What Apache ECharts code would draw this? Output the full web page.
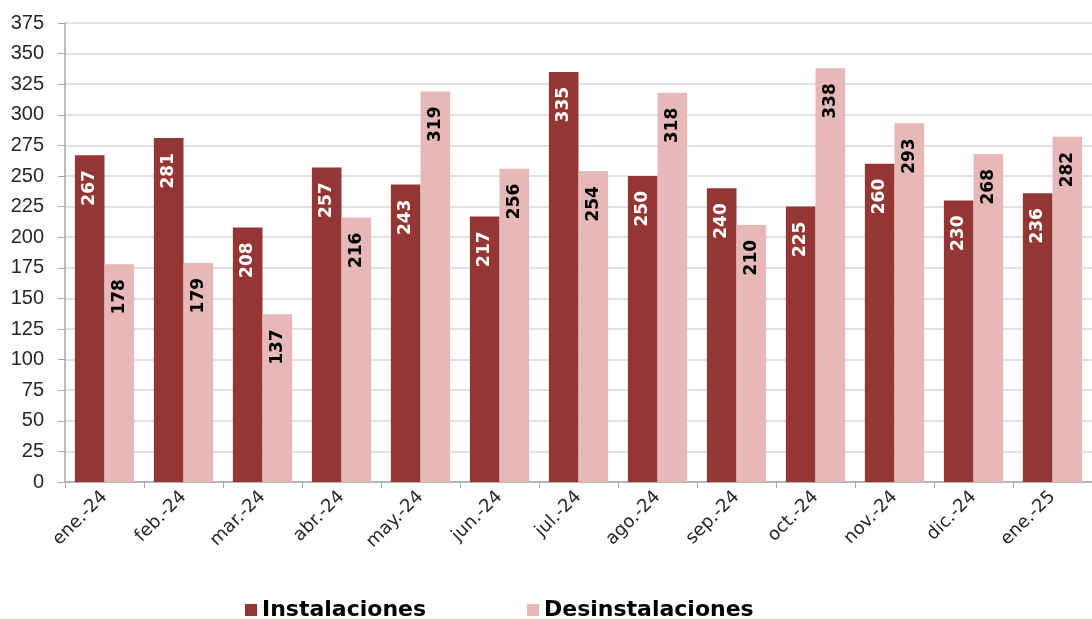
<!DOCTYPE html>
<html><head><meta charset="utf-8">
<script src="https://cdn.jsdelivr.net/npm/echarts@6/dist/echarts.min.js"></script>
<style>html,body{margin:0;padding:0;background:#fff}#c{width:1092px;height:619px}</style>
</head><body><div id="c"></div>
<script>
var categories = ['ene.-24','feb.-24','mar.-24','abr.-24','may.-24','jun.-24','jul.-24','ago.-24','sep.-24','oct.-24','nov.-24','dic.-24','ene.-25'];
var instalaciones = [267,281,208,257,243,217,335,250,240,225,260,230,236];
var desinstalaciones = [178,179,137,216,319,256,254,318,210,338,293,268,282];
var yTicks = {min:0, max:375, interval:25};

var font = '"DejaVu Sans", sans-serif';
var chart = echarts.init(document.getElementById('c'));
function lbl(color){
  return {show:true, position:'insideTop', rotate:90, align:'right', verticalAlign:'middle',
    distance:15, color:color, fontWeight:'bold', fontSize:17, fontFamily:font};
}
chart.setOption({
  animation:false,
  grid:{left:65, top:23, width:1031, height:459, containLabel:false},
  legend:[
    {data:['Instalaciones'], left:240, top:594, itemWidth:12, itemHeight:12, icon:'rect',
     textStyle:{fontSize:22, fontWeight:'bold', color:'#000', fontFamily:font}},
    {data:['Desinstalaciones'], left:522, top:594, itemWidth:12, itemHeight:12, icon:'rect',
     textStyle:{fontSize:22, fontWeight:'bold', color:'#000', fontFamily:font}}
  ],
  xAxis:{type:'category', data:categories,
    axisLine:{lineStyle:{color:'#a6a6a6', width:1.5}},
    axisTick:{show:true, alignWithLabel:false, length:6, lineStyle:{color:'#a6a6a6'}},
    axisLabel:{rotate:45, fontSize:18, color:'#262626', fontFamily:font, margin:12, interval:0}},
  yAxis:{type:'value', min:yTicks.min, max:yTicks.max, interval:yTicks.interval,
    axisLine:{show:true, lineStyle:{color:'#a6a6a6', width:1.5}},
    axisTick:{show:true, length:7, lineStyle:{color:'#a6a6a6'}},
    splitLine:{lineStyle:{color:'#d9d9d9', width:1.5}},
    axisLabel:{fontSize:20, color:'#262626', fontFamily:'"Liberation Sans", Arial, sans-serif', margin:21}},
  series:[
    {name:'Instalaciones', type:'bar', data:instalaciones, barGap:'0%', barCategoryGap:'25%',
     itemStyle:{color:'#943634'}, label:lbl('#ffffff')},
    {name:'Desinstalaciones', type:'bar', data:desinstalaciones, barGap:'0%', barCategoryGap:'25%',
     itemStyle:{color:'#e6b9b8'}, label:lbl('#000000')}
  ]
});
</script></body></html>
